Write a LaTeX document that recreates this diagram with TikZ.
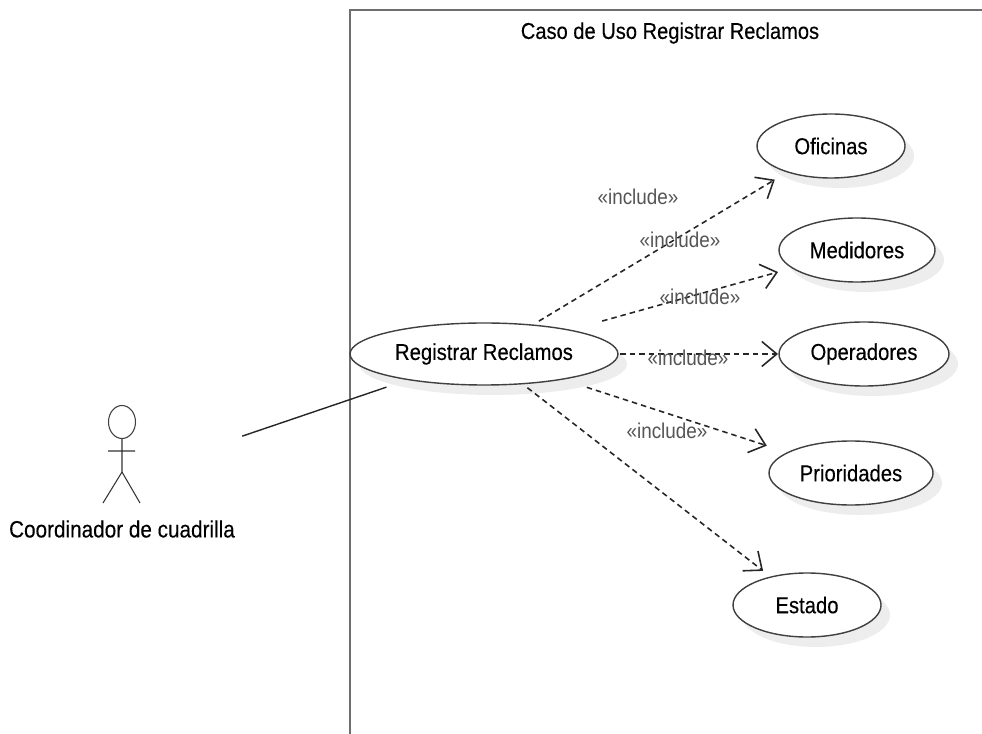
\documentclass[tikz,border=0pt]{standalone}
\usepackage{fontspec}
\setmainfont{Liberation Sans}[FakeStretch=0.88,FakeBold=0.25]
\newfontfamily\inclfont{Liberation Sans}[FakeStretch=0.88]
\usetikzlibrary{shapes,shadows,arrows.meta}
\definecolor{framegray}{RGB}{110,110,110}
\definecolor{inclgray}{RGB}{85,85,85}
\tikzset{
    usecase/.style={ellipse,draw=black!75,line width=.4pt,fill=white,inner sep=0pt,minimum height=.64cm,font=\fontsize{6.55}{7}\selectfont,
        drop shadow={shadow xshift=.09cm,shadow yshift=-.1cm,fill=black!7,opacity=1}},
    incl/.style 2 args={dash pattern=on .055cm off .04cm,line width=.45pt,black!85,-{Straight Barb[length=1.5mm,width=2.5mm]},shorten <=#1,shorten >=#2},
    incltext/.style={inclgray,font=\inclfont\fontsize{6.1}{7}\selectfont},
    stick/.style={line width=.3pt,black!80},
}
\begin{document}
\begin{tikzpicture}
    \useasboundingbox (0,0) rectangle (9.82,-7.34);
    \draw[framegray,line width=.8pt] (9.82,-.1) -- (3.5,-.1) -- (3.5,-7.34);
    \node (title) at (6.7,-.33) [font=\fontsize{6.5}{7}\selectfont] {Caso de Uso Registrar Reclamos};
    \node[usecase,minimum width=2.68cm,minimum height=.62cm] (reg) at (4.84,-3.54) {Registrar Reclamos};
    \node[usecase,minimum width=1.48cm] (ofi) at (8.31,-1.46) {Oficinas};
    \node[usecase,minimum width=1.56cm] (med) at (8.57,-2.5) {Medidores};
    \node[usecase,minimum width=1.7cm] (ope) at (8.64,-3.54) {Operadores};
    \node[usecase,minimum width=1.64cm] (pri) at (8.51,-4.73) {Prioridades};
    \node[usecase,minimum width=1.48cm] (est) at (8.07,-6.05) {Estado};
    \path
    (reg.center) edge [incl={.64cm}{.655cm}] (ofi.center)
    (reg.center) edge [incl={1.227cm}{.82cm}] (med.center)
    (reg.center) edge [incl={1.36cm}{.86cm}] (ope.center)
    (reg.center) edge [incl={1.08cm}{.885cm}] (pri.center)
    (reg.center) edge [incl={.55cm}{.556cm}] (est.center)
    ;
    \node[incltext] (l1) at (6.38,-1.97) {«include»};
    \node[incltext] (l2) at (6.8,-2.4) {«include»};
    \node[incltext] (l3) at (7,-2.97) {«include»};
    \node[incltext] (l4) at (6.88,-3.58) {«include»};
    \node[incltext] (l5) at (6.67,-4.31) {«include»};
    % actor
    \node[ellipse,draw=black!75,line width=.3pt,inner sep=0pt,minimum width=.27cm,minimum height=.33cm] (head) at (1.22,-4.22) {};
    \coordinate (hip) at (1.22,-4.72);
    \coordinate (armL) at (1.08,-4.51);
    \coordinate (armR) at (1.35,-4.51);
    \coordinate (footL) at (1.03,-5.03);
    \coordinate (footR) at (1.4,-5.03);
    \coordinate (act) at (1.22,-4.77);
    \draw[stick] (head) -- (hip) (armL) -- (armR) (footL) -- (hip) -- (footR);
    \node (actor) at (1.22,-5.29) [font=\fontsize{6.7}{7}\selectfont] {Coordinador de cuadrilla};
    \draw[line width=.4pt,black!85,shorten <=1.27cm,shorten >=1.03cm] (act) -- (reg.center);
\end{tikzpicture}
\end{document}
